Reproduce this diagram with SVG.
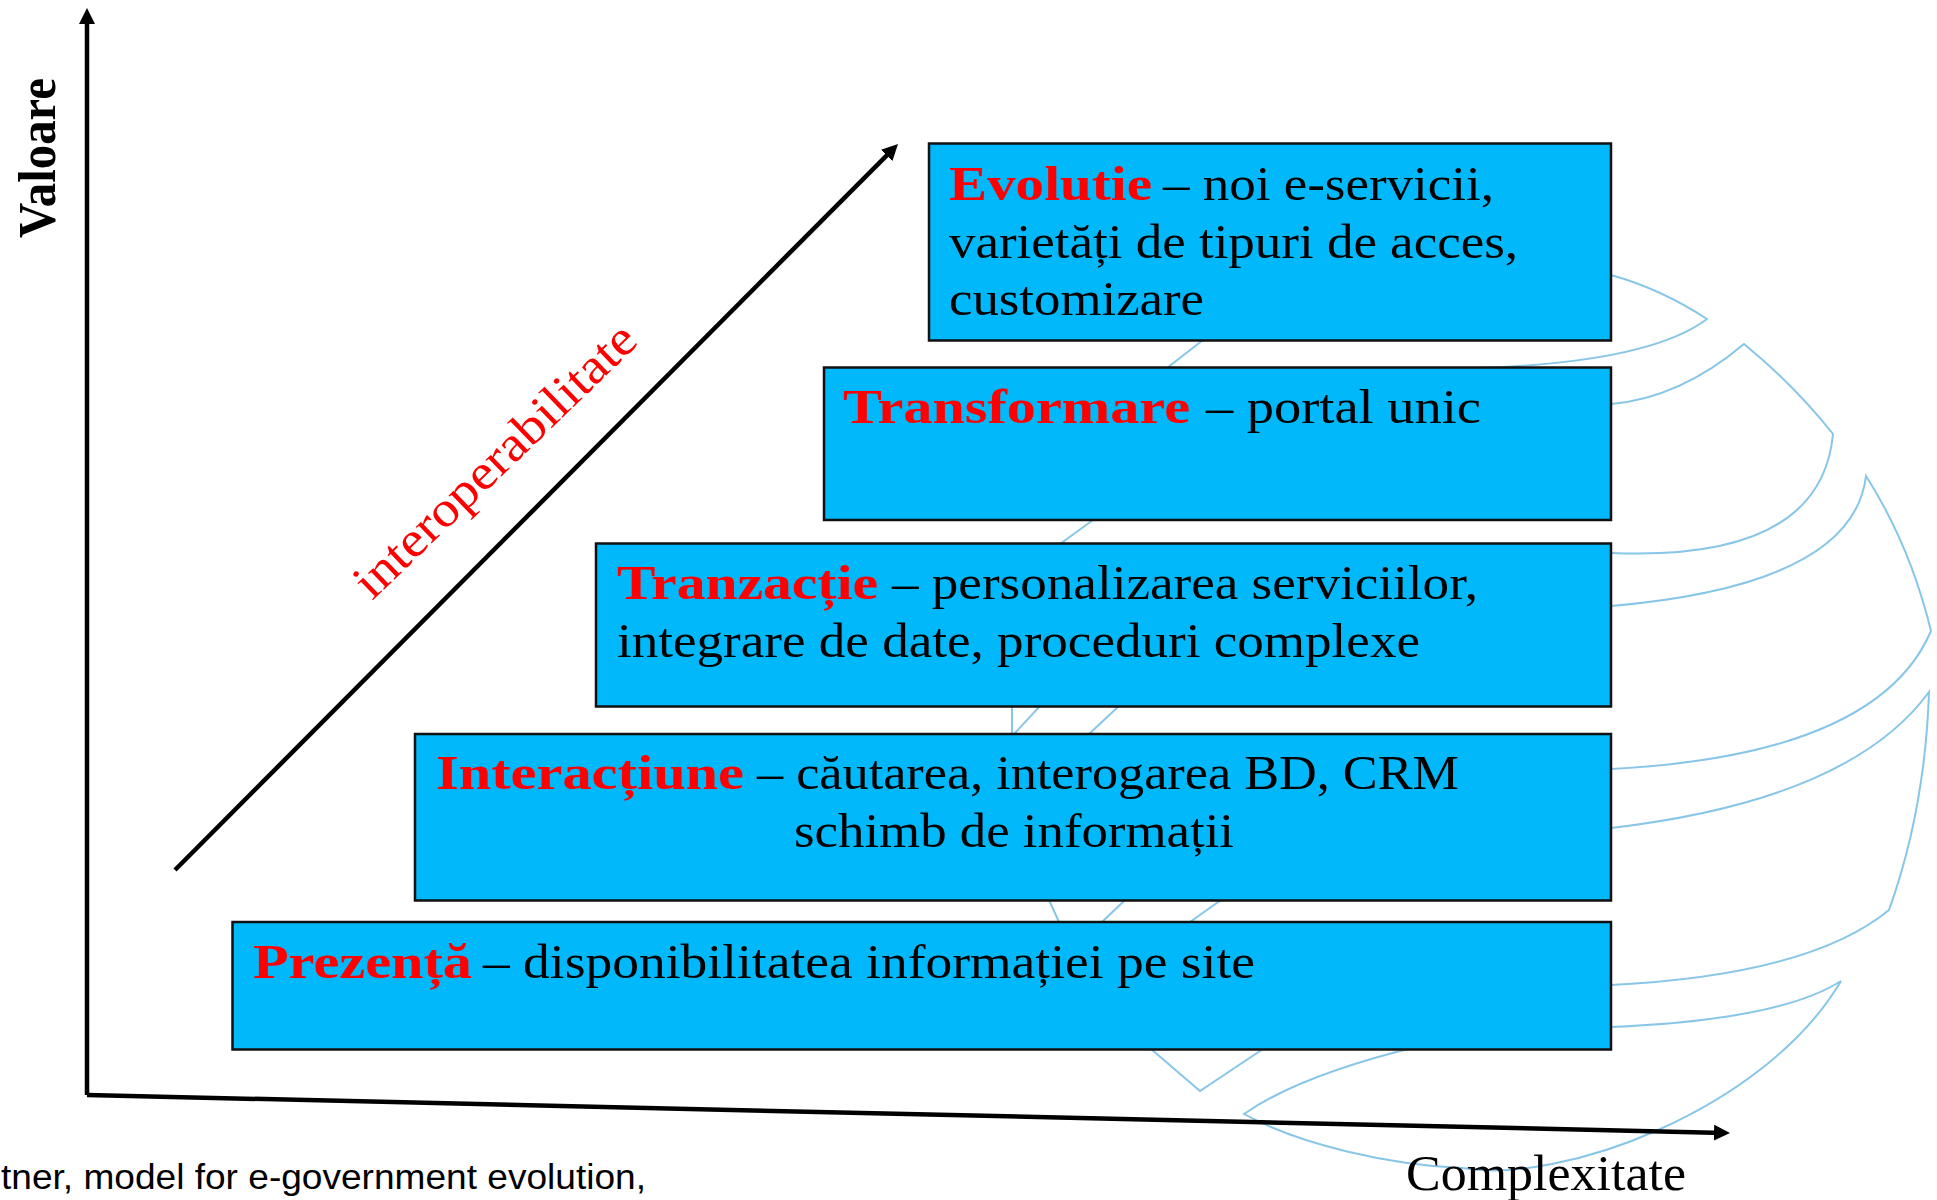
<svg xmlns="http://www.w3.org/2000/svg" width="1937" height="1200" viewBox="0 0 1937 1200">
<style>
.box{fill:#00B8FA;stroke:#111;stroke-width:2.5}
.t{font-family:"Liberation Serif","Times New Roman",serif;font-size:49px;fill:#000}
.b{font-family:"Liberation Serif","Times New Roman",serif;font-size:49px;font-weight:bold;fill:#FF0000}
.globe{fill:none;stroke:#88C6E8;stroke-width:2}
.axis{stroke:#000;stroke-width:4.5;fill:none}
</style>
<defs>
<marker id="ah" viewBox="0 0 16 16" refX="10" refY="8" markerWidth="16" markerHeight="16" markerUnits="userSpaceOnUse" orient="auto">
<path d="M0,0 L16,8 L0,16 z" fill="#000"/>
</marker>
</defs>
<rect x="0" y="0" width="1937" height="1200" fill="#fff"/>
<g id="globe" class="globe">
<path d="M1611,275 Q1661,289 1707,319 Q1650,362 1480,368"/>
<path d="M1203,340 L1167,368"/>
<path d="M1611,404 Q1680,398 1744,344 Q1793,384 1833,434 Q1821,562 1611,553"/>
<path d="M1093,520 L1060,544"/>
<path d="M1611,606 Q1853,585 1866,476 Q1910,545 1931,631 Q1878,755 1611,769"/>
<path d="M1012,706 L1012,734 M1040,706 L1014,734 M1119,706 L1089,734"/>
<path d="M1611,828 Q1850,800 1929,692 Q1925,810 1889,910 Q1810,975 1611,985"/>
<path d="M1049,900 L1059,922 M1125,900 L1102,922 M1221,900 L1190,922"/>
<path d="M1611,1027 Q1780,1020 1841,981 C1765,1110 1560,1185 1462,1168 C1390,1165 1300,1145 1244,1114 Q1300,1075 1420,1046"/>
<path d="M1151,1049 L1200,1091 L1263,1049"/>
</g>
<g id="connectors">
<line id="axis-y" class="axis" x1="87" y1="1095" x2="87" y2="14" marker-end="url(#ah)"/>
<line id="axis-x" class="axis" x1="87" y1="1095" x2="1724" y2="1132.9" marker-end="url(#ah)"/>
<line id="arrow-interop" class="axis" x1="175" y1="870" x2="893.8" y2="148.3" marker-end="url(#ah)"/>
</g>
<g id="node-evolutie">
<rect class="box" x="929" y="143.5" width="682" height="197"/>
<text class="b" x="949" y="200" textLength="203" lengthAdjust="spacingAndGlyphs">Evolutie</text>
<text class="t" x="1163" y="200" textLength="331" lengthAdjust="spacingAndGlyphs">– noi e-servicii,</text>
<text class="t" x="949" y="258" textLength="569" lengthAdjust="spacingAndGlyphs">varietăți de tipuri de acces,</text>
<text class="t" x="949" y="315" textLength="255" lengthAdjust="spacingAndGlyphs">customizare</text>
</g>
<g id="node-transformare">
<rect class="box" x="824" y="367.5" width="787" height="152.5"/>
<text class="b" x="843" y="423" textLength="347" lengthAdjust="spacingAndGlyphs">Transformare</text>
<text class="t" x="1206" y="423" textLength="275" lengthAdjust="spacingAndGlyphs">– portal unic</text>
</g>
<g id="node-tranzactie">
<rect class="box" x="596" y="543.5" width="1015" height="163"/>
<text class="b" x="617" y="599" textLength="261" lengthAdjust="spacingAndGlyphs">Tranzacție</text>
<text class="t" x="892" y="599" textLength="586" lengthAdjust="spacingAndGlyphs">– personalizarea serviciilor,</text>
<text class="t" x="617" y="657" textLength="803" lengthAdjust="spacingAndGlyphs">integrare de date, proceduri complexe</text>
</g>
<g id="node-interactiune">
<rect class="box" x="415" y="734" width="1196" height="166.5"/>
<text class="b" x="436" y="789" textLength="308" lengthAdjust="spacingAndGlyphs">Interacțiune</text>
<text class="t" x="757" y="789" textLength="702" lengthAdjust="spacingAndGlyphs">– căutarea, interogarea BD, CRM</text>
<text class="t" x="794" y="847" textLength="440" lengthAdjust="spacingAndGlyphs">schimb de informații</text>
</g>
<g id="node-prezenta">
<rect class="box" x="232.5" y="922" width="1378.5" height="127.5"/>
<text class="b" x="253" y="978" textLength="219" lengthAdjust="spacingAndGlyphs">Prezență</text>
<text class="t" x="483" y="978" textLength="772" lengthAdjust="spacingAndGlyphs">– disponibilitatea informației pe site</text>
</g>
<g id="labels">
<text id="label-valoare" transform="translate(55,238) scale(1.08,1) rotate(-90)" x="0" y="0" font-family="Liberation Serif, Times New Roman, serif" font-size="49" font-weight="bold" fill="#000" textLength="160" lengthAdjust="spacingAndGlyphs">Valoare</text>
<text id="label-complexitate" x="1406" y="1190" font-family="Liberation Serif, Times New Roman, serif" font-size="51" fill="#000" textLength="280" lengthAdjust="spacingAndGlyphs">Complexitate</text>
<text id="label-interop" transform="translate(372,601) rotate(-43.9)" x="0" y="0" font-family="Liberation Serif, Times New Roman, serif" font-size="50" fill="#FF0000" textLength="372" lengthAdjust="spacingAndGlyphs">interoperabilitate</text>
<text id="caption" x="1" y="1189" font-family="Liberation Sans, Arial, sans-serif" font-size="35" fill="#000" textLength="645" lengthAdjust="spacingAndGlyphs">tner, model for e-government evolution,</text>
</g>
</svg>
